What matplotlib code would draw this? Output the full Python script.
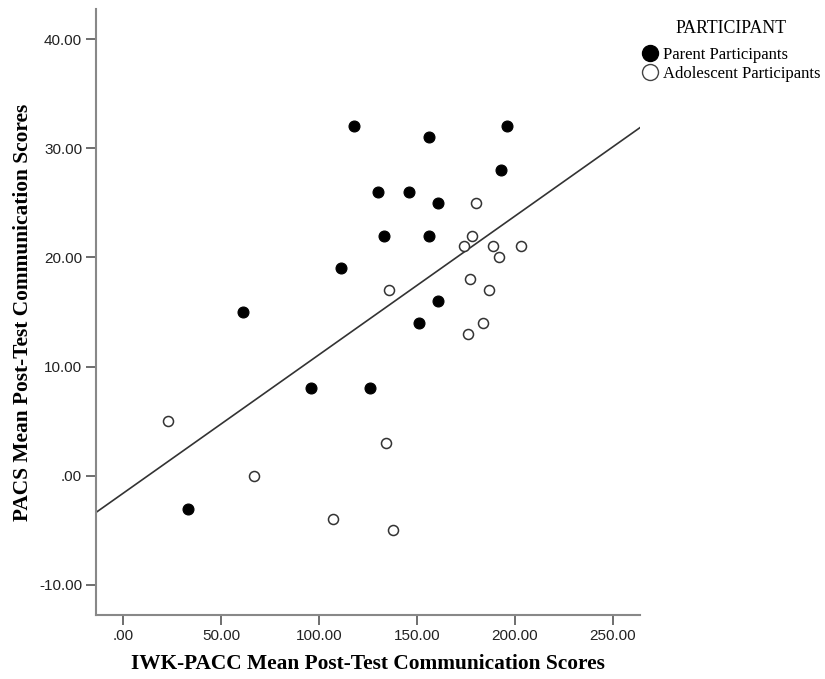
import numpy as np
import matplotlib
matplotlib.use("Agg")
import matplotlib.pyplot as plt
from matplotlib.lines import Line2D

# parent participants (filled)
parent_x = [33, 61, 96, 111, 118, 126, 130, 133, 146, 151, 161, 156, 156, 161, 193, 196]
parent_y = [-3, 15, 8, 19, 32, 8, 26, 22, 26, 14, 16, 22, 31, 25, 28, 32]
# adolescent participants (open)
adol_x = [23, 67, 107, 134, 138, 136, 176, 184, 177, 187, 174, 178, 180, 189, 192, 203]
adol_y = [5, 0, -4, 3, -5, 17, 13, 14, 18, 17, 21, 22, 25, 21, 20, 21]

xticks = [0, 50, 100, 150, 200, 250]
yticks = [-10, 0, 10, 20, 30, 40]

def fmt(v):
    s = "%.2f" % v
    return s[1:] if s.startswith("0.") else s

fig = plt.figure(figsize=(8.25, 6.79), dpi=100)
ax = fig.add_axes([0.1164, 0.0943, 0.7758 - 0.1164, 0.9867 - 0.0943])

ax.scatter(parent_x, parent_y, s=62, c='black', edgecolors='black', linewidths=0.8, zorder=3)
ax.scatter(adol_x, adol_y, s=52, facecolors='white', edgecolors='#333333', linewidths=1.1, zorder=3)

# total fit line
all_x = np.array(parent_x + adol_x, dtype=float)
all_y = np.array(parent_y + adol_y, dtype=float)
slope, icpt = np.polyfit(all_x, all_y, 1)
xmin, xmax = -13.9, 264.0
xx = np.array([xmin, xmax])
ax.plot(xx, icpt + slope * xx, color='#333333', linewidth=1.2, zorder=2)

ax.set_xlim(xmin, xmax)
ax.set_ylim(-12.75, 42.75)
ax.set_xticks(xticks)
ax.set_yticks(yticks)
ax.set_xticklabels([fmt(v) for v in xticks], fontfamily='Liberation Sans', fontsize=11, color='#222222')
ax.set_yticklabels([fmt(v) for v in yticks], fontfamily='Liberation Sans', fontsize=11, color='#222222')
ax.tick_params(axis='both', direction='out', length=7, width=1.2, color='#555555', pad=3)

for side in ['top', 'right']:
    ax.spines[side].set_visible(False)
for side in ['left', 'bottom']:
    ax.spines[side].set_color('#888888')
    ax.spines[side].set_linewidth(1.5)

ax.set_xlabel('IWK-PACC Mean Post-Test Communication Scores', fontfamily='Liberation Serif',
              fontweight='bold', fontsize=15.4, labelpad=8)
ax.set_ylabel('PACS Mean Post-Test Communication Scores', fontfamily='Liberation Serif',
              fontweight='bold', fontsize=15.4, labelpad=4)

# legend title drawn on its own so the gap to the entries matches
fig.text(0.886, 0.958, 'PARTICIPANT', ha='center', va='center',
         fontfamily='Liberation Serif', fontsize=12.8)
handles = [
    Line2D([], [], linestyle='none', marker='o', markersize=11.5, markerfacecolor='black', markeredgecolor='black'),
    Line2D([], [], linestyle='none', marker='o', markersize=11.5, markerfacecolor='white', markeredgecolor='#444444'),
]
leg = fig.legend(handles, ['Parent Participants', 'Adolescent Participants'],
                 loc='upper left', bbox_to_anchor=(0.766, 0.948), frameon=False,
                 prop={'family': 'Liberation Serif', 'size': 12},
                 handlelength=0.8, handletextpad=0.35, labelspacing=0.2, borderpad=0.2)

fig.savefig('out.png', dpi=100)
